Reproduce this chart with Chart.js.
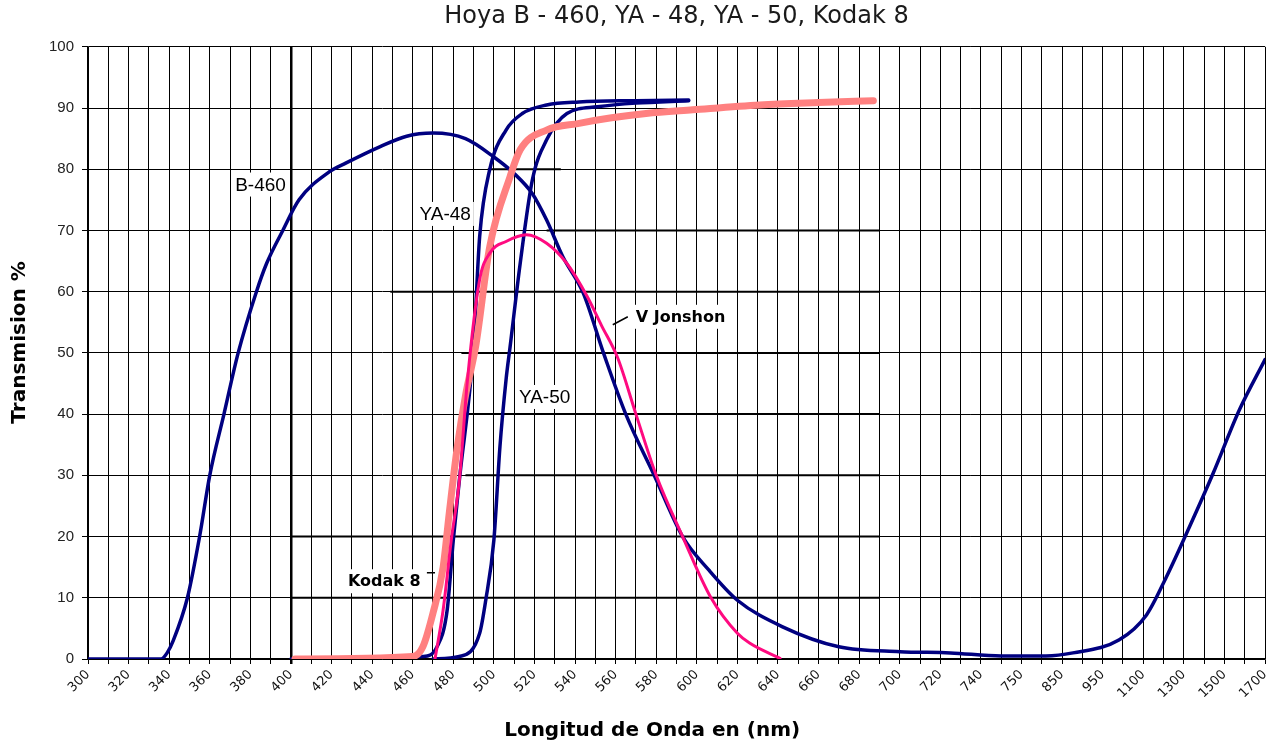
<!DOCTYPE html>
<html>
<head>
<meta charset="utf-8">
<script src="https://cdn.jsdelivr.net/npm/chart.js@4.4.1/dist/chart.umd.min.js"></script>
<style>
html, body { margin: 0; padding: 0; background: #fff; }
#wrap { width: 1284px; height: 747px; }
</style>
</head>
<body>
<div id="wrap"><canvas id="chart"></canvas></div>
<script>
// x axis categories (uneven spacing after 740)
const tickLabels = ["300","320","340","360","380","400","420","440","460","480","500","520","540","560","580",
    "600","620","640","660","680","700","720","740","750","850","950","1100","1300","1500","1700"]
const tickNm = tickLabels.map(Number)

// Hoya B-460
const b460Nm = [300,336,339,342,349,355,360,367,374,383,388,396,404,419,427,444,457,470,486,500,510,519,526,534,
    544,554,565,579,593,606,620,642,670,700,725,745,810,877,1010,1116,1214,1328,1444,1574,1700]
const b460T = [0,0,1,3,10,20,30,40,50,60,64.6,70,75,79.6,81,83.7,85.4,85.9,85,82,79.3,76,71.7,65.7,
    59.8,50,40,30,20,14.5,9.6,5.3,2,1.2,1,0.5,0.5,1,3.1,7.2,13.4,21.6,30.3,40.7,48.9]

// YA-48
const ya48Nm = [400,465,472,477,480,483,490,493,498,506,514,526,542,570,596]
const ya48T = [0,0.4,2,8,19.4,29.2,51,69,80,86.4,89.1,90.5,91,91.2,91.3]

// YA-50
const ya50Nm = [470,483,493,496,500,503,506,508,513,519,526,536,551,570,596]
const ya50T = [0,0.4,4.2,9.6,19.4,34.7,45.6,51,64.7,78.3,84.8,89.1,90.2,90.8,91.2]

// Kodak 8
const kodakNm = [402,460,465,470,475,478,482,486,491,498,508,513,526,542,558,575,598,631,660,687]
const kodakT = [0,0.4,2,7.5,15,23.8,34.7,43,51,67.4,78.8,83.2,86.4,87.5,88.4,89.1,89.7,90.5,90.9,91.2]

// V Jonshon
const vjNm = [471,475,479,483,487,493,498,506,516,526,536,546,553,561,570,580,593,607,620,626,641]
const vjT = [0,8,19.4,29.2,45.6,62,66.3,68.2,69.3,67.9,64.6,59.2,54.5,49.2,40,30,20,10,4.2,2.6,0.1]

// heavier horizontal rules pasted on the original sheet
const ruleFrom = [400,400,486,484,484,449,526,497]
const ruleTo = [690,690,690,690,690,690,690,533]
const rulePct = [10,20,30,40,50,60,70,80]

// curve labels
const noteText = ["B-460","YA-48","YA-50","V Jonshon","Kodak 8"]
const noteNm = [385,476,525,592,446]
const notePct = [77.5,72.7,42.8,55.9,12.7]

function nmToPos(w) {
    for (let i = 0; i < tickNm.length - 1; i++) {
        if (w <= tickNm[i + 1]) return i + (w - tickNm[i]) / (tickNm[i + 1] - tickNm[i])
    }
    return tickNm.length - 1
}
const toPoints = (nm, t) => nm.map((w, i) => ({ x: nmToPos(w), y: t[i] }))

const NAVY = "#000080"

const curve = (label, nm, t, color, width, order) => ({
    label, data: toPoints(nm, t), borderColor: color, borderWidth: width, order,
    pointRadius: 0, fill: false, cubicInterpolationMode: "monotone", borderJoinStyle: "round", borderCapStyle: "round"
})

const datasets = [
    curve("V Jonshon", vjNm, vjT, "#FF0A80", 3, 0),
    curve("Kodak 8", kodakNm, kodakT, "#FF8080", 7, 1),
    curve("B-460", b460Nm, b460T, NAVY, 3.5, 2),
    curve("YA-48", ya48Nm, ya48T, NAVY, 3.5, 2),
    curve("YA-50", ya50Nm, ya50T, NAVY, 3.5, 2)
]
rulePct.forEach((p, i) => {
    datasets.push({
        label: "", data: [{ x: nmToPos(ruleFrom[i]), y: p }, { x: nmToPos(ruleTo[i]), y: p }],
        borderColor: "#000", borderWidth: 2, pointRadius: 0, order: 5, tension: 0
    })
})

const notes = {
    id: "notes",
    afterDatasetsDraw(chart) {
        const { ctx, scales: { x, y } } = chart
        ctx.save()
        noteText.forEach((txt, i) => {
            const px = x.getPixelForValue(nmToPos(noteNm[i]))
            const py = y.getPixelForValue(notePct[i])
            const comic = i >= 3
            ctx.font = comic ? "bold 16px 'DejaVu Sans'" : "19px 'Liberation Sans'"
            const w = ctx.measureText(txt).width
            ctx.fillStyle = "#fff"
            ctx.fillRect(px - w / 2 - 3, py - 12, w + 6, 24)
            ctx.fillStyle = "#000"
            ctx.textAlign = "center"
            ctx.textBaseline = "middle"
            ctx.fillText(txt, px, py + 1)
        })
        // small leader marks next to V Jonshon and Kodak 8
        ctx.strokeStyle = "#000"
        ctx.lineWidth = 1.5
        ctx.beginPath()
        ctx.moveTo(x.getPixelForValue(nmToPos(558.6)), y.getPixelForValue(54.6))
        ctx.lineTo(x.getPixelForValue(nmToPos(566)), y.getPixelForValue(55.9))
        ctx.moveTo(x.getPixelForValue(nmToPos(467)), y.getPixelForValue(14.1))
        ctx.lineTo(x.getPixelForValue(nmToPos(471)), y.getPixelForValue(14.1))
        ctx.stroke()
        ctx.restore()
    }
}

new Chart(document.getElementById("chart"), {
    type: "line",
    data: { datasets },
    plugins: [notes],
    options: {
        responsive: true,
        maintainAspectRatio: false,
        animation: false,
        layout: { padding: { left: 0, right: 19, top: 0, bottom: 0 } },
        plugins: {
            legend: { display: false },
            tooltip: { enabled: false },
            title: {
                display: true,
                fullSize: false,
                text: "Hoya B - 460, YA - 48, YA - 50, Kodak 8",
                color: "#1a1a1a",
                font: { family: "'DejaVu Sans'", size: 24, weight: "normal" },
                padding: { top: 2, bottom: 16 }
            }
        },
        scales: {
            x: {
                type: "linear",
                min: 0,
                max: tickLabels.length - 1,
                afterFit: s => { s.height = 88 },
                grid: {
                    color: "#000",
                    lineWidth: c => (c.tick && c.tick.value === 5 ? 2.5 : 1),
                    tickLength: 5
                },
                border: { color: "#000", width: 1.5 },
                ticks: {
                    stepSize: 0.5,
                    autoSkip: false,
                    minRotation: 45,
                    maxRotation: 45,
                    color: "#111",
                    font: { family: "'DejaVu Sans'", size: 13 },
                    callback: v => (Number.isInteger(v) ? tickLabels[v] : "")
                },
                title: {
                    display: true,
                    text: "Longitud de Onda en (nm)       ",
                    color: "#000",
                    font: { family: "'DejaVu Sans'", size: 20, weight: "bold" },
                    padding: { top: 4, bottom: 4 }
                }
            },
            y: {
                min: 0,
                max: 100,
                afterFit: s => { s.width = 88 },
                grid: { color: "#000", lineWidth: 1, tickLength: 6 },
                border: { color: "#000", width: 1.5 },
                ticks: {
                    stepSize: 10,
                    padding: 8,
                    color: "#222",
                    font: { family: "'Liberation Sans'", size: 15 }
                },
                title: {
                    display: true,
                    text: "   Transmision %",
                    color: "#000",
                    font: { family: "'DejaVu Sans'", size: 20, weight: "bold" },
                    padding: { top: 8, bottom: 4 }
                }
            }
        }
    }
})
</script>
</body>
</html>
